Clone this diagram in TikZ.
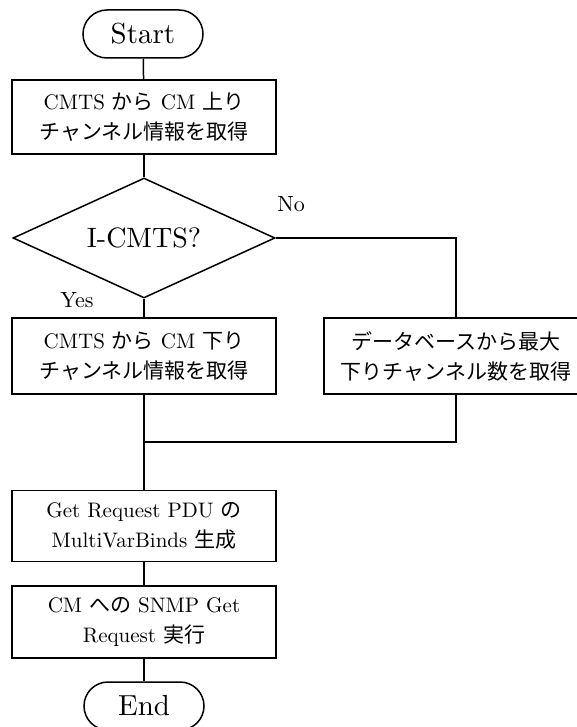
\documentclass[tikz,border=0pt]{standalone}
\usepackage{fontspec}
\setmainfont{lmroman10-regular}[Extension=.otf]
\newfontfamily\jp{Noto Sans CJK JP}
\usetikzlibrary{shapes.geometric}
\begin{document}
\begin{tikzpicture}[x=1pt,y=-1pt,line width=1.5pt,
    box/.style={draw,minimum width=264pt,minimum height=73pt,align=center,font=\fontsize{21}{30}\selectfont},
    term/.style={draw,rounded corners=24pt,minimum width=120pt,minimum height=48pt,font=\fontsize{29}{30}\selectfont},
    decision/.style={draw,diamond,aspect=2.2,inner sep=0pt,minimum width=262pt,minimum height=120pt,font=\fontsize{28}{30}\selectfont},
    lbl/.style={font=\fontsize{22}{24}\selectfont}]
        \useasboundingbox (0,0) rectangle (577,727);
        \node[term] (start) at (143,34) {Start};
        \node[box,minimum height=74pt] (getup) at (144,117) {CMTS {\jp から} CM {\jp 上り}\\{\jp チャンネル情報を取得}};
        \node[decision] (icmts) at (144,238) {I-CMTS?};
        \node[box,minimum height=76pt] (getdown) at (144,356) {CMTS {\jp から} CM {\jp 下り}\\{\jp チャンネル情報を取得}};
        \node[box,minimum height=76pt] (getmax) at (456,356) {{\jp データベースから最大}\\{\jp 下りチャンネル数を取得}};
        \coordinate (join) at (144,442);
        \node[box,minimum height=71pt] (genpdu) at (144,526) {Get Request PDU {\jp の}\\MultiVarBinds {\jp 生成}};
        \node[box,minimum height=72pt] (snmpget) at (144,622) {CM {\jp への} SNMP Get\\Request {\jp 実行}};
        \node[term] (stop) at (144,706) {End};
        \node[lbl] (no) at (291,204) {No};
        \node[lbl] (yes) at (77,300) {Yes};
        \draw (start) to (getup);
        \draw (getup) to (icmts);
        \draw (icmts) to (getdown);
        \draw (icmts) -| (getmax);
        \draw (getdown) to (genpdu);
        \draw (getmax) |- (join);
        \draw (genpdu) to (snmpget);
        \draw (snmpget) to (stop);
    \end{tikzpicture}
\end{document}
